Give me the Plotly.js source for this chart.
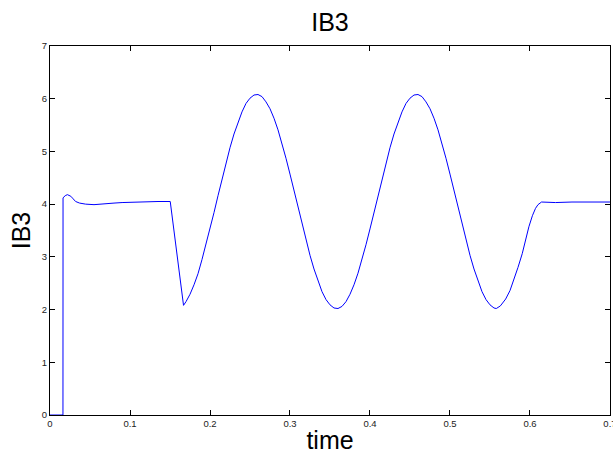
<!DOCTYPE html>
<html>
<head>
<meta charset="utf-8">
<script src="https://cdn.plot.ly/plotly-3.0.1.min.js"></script>
<style>
html,body{margin:0;padding:0;background:#fff;}
#chart{width:613px;height:454px;}
</style>
</head>
<body>
<div id="chart"></div>
<script>
// time samples (s)
const timeValues = [
  0, 0.0162, 0.0163, 0.019, 0.0217, 0.026, 0.029, 0.032, 0.037, 0.0445,
  0.055, 0.0694, 0.08, 0.0901, 0.105, 0.12, 0.135, 0.1503, 0.1669,
  0.170, 0.175, 0.180, 0.185, 0.190, 0.195, 0.200, 0.205, 0.210, 0.215,
  0.220, 0.225, 0.230, 0.235, 0.240, 0.245, 0.250, 0.255, 0.2583, 0.260,
  0.265, 0.270, 0.275, 0.280, 0.285, 0.290, 0.295, 0.300, 0.305, 0.310,
  0.315, 0.320, 0.325, 0.330, 0.335, 0.340, 0.345, 0.350, 0.355, 0.3579,
  0.360, 0.365, 0.370, 0.375, 0.380, 0.385, 0.390, 0.395, 0.400, 0.405,
  0.410, 0.415, 0.420, 0.425, 0.430, 0.435, 0.440, 0.445, 0.450, 0.455,
  0.4583, 0.460, 0.465, 0.470, 0.475, 0.480, 0.485, 0.490, 0.495, 0.500,
  0.505, 0.510, 0.515, 0.520, 0.525, 0.530, 0.535, 0.540, 0.545, 0.550,
  0.555, 0.5579, 0.563, 0.5696, 0.575, 0.5799, 0.585, 0.5903, 0.5945,
  0.5986, 0.603, 0.6069, 0.610, 0.6144, 0.6318, 0.6525, 0.70
];
// IB3 values
const ib3Values = [
  0, 0, 4.12, 4.16, 4.18, 4.15, 4.10, 4.05, 4.02, 4.00,
  3.99, 4.00, 4.02, 4.03, 4.04, 4.05, 4.05, 4.05, 2.08,
  2.15, 2.29, 2.47, 2.68, 2.95, 3.23, 3.53, 3.84, 4.16, 4.47,
  4.78, 5.07, 5.33, 5.56, 5.75, 5.91, 6.01, 6.07, 6.08, 6.08,
  6.04, 5.94, 5.81, 5.63, 5.41, 5.15, 4.87, 4.57, 4.26, 3.94,
  3.63, 3.32, 3.03, 2.77, 2.54, 2.34, 2.19, 2.09, 2.03, 2.02,
  2.02, 2.06, 2.15, 2.29, 2.47, 2.69, 2.95, 3.23, 3.53, 3.84,
  4.16, 4.47, 4.78, 5.07, 5.33, 5.56, 5.75, 5.91, 6.01, 6.07,
  6.08, 6.08, 6.04, 5.94, 5.81, 5.63, 5.41, 5.15, 4.87, 4.57,
  4.26, 3.94, 3.63, 3.32, 3.03, 2.77, 2.54, 2.34, 2.19, 2.09,
  2.03, 2.02, 2.07, 2.20, 2.36, 2.56, 2.80, 3.06, 3.32,
  3.57, 3.78, 3.92, 3.99, 4.04, 4.03, 4.04, 4.04
];
const xTickVals = [0, 0.1, 0.2, 0.3, 0.4, 0.5, 0.6, 0.7];
const xTickText = ["0", "0.1", "0.2", "0.3", "0.4", "0.5", "0.6", "0.7"];
const yTickVals = [0, 1, 2, 3, 4, 5, 6, 7];
const yTickText = ["0", "1", "2", "3", "4", "5", "6", "7"];
const chartTitle = "IB3";
const xLabel = "time";
const yLabel = "IB3";

const fontFam = "Liberation Sans, Arial, Helvetica, sans-serif";

const trace = {
  x: timeValues,
  y: ib3Values,
  type: "scatter",
  mode: "lines",
  line: {color: "#0000ff", width: 1},
  hoverinfo: "skip"
};

const axisCommon = {
  showline: true,
  linecolor: "#000",
  linewidth: 1,
  mirror: "ticks",
  ticks: "inside",
  ticklen: 5,
  tickwidth: 1,
  tickcolor: "#000",
  showgrid: false,
  zeroline: false,
  ticklabeloverflow: "allow",
  tickfont: {family: fontFam, size: 9.5, color: "#222"}
};

const layout = {
  width: 613,
  height: 454,
  margin: {l: 50, r: 3, t: 46, b: 39, pad: 0},
  paper_bgcolor: "#fff",
  plot_bgcolor: "#fff",
  showlegend: false,
  title: {
    text: chartTitle,
    font: {family: fontFam, size: 25, color: "#000"},
    x: 0.5, xref: "paper", xanchor: "center",
    y: 0.952, yref: "container", yanchor: "middle"
  },
  xaxis: Object.assign({}, axisCommon, {
    range: [0, 0.70002],
    tickvals: xTickVals,
    ticktext: xTickText,
    title: {text: xLabel, font: {family: fontFam, size: 25, color: "#000"}, standoff: 6}
  }),
  yaxis: Object.assign({}, axisCommon, {
    range: [0, 7],
    tickvals: yTickVals,
    ticktext: yTickText,
    title: {text: yLabel, font: {family: fontFam, size: 25, color: "#000"}, standoff: 4}
  })
};

Plotly.newPlot("chart", [trace], layout, {displayModeBar: false, staticPlot: true});
</script>
</body>
</html>
